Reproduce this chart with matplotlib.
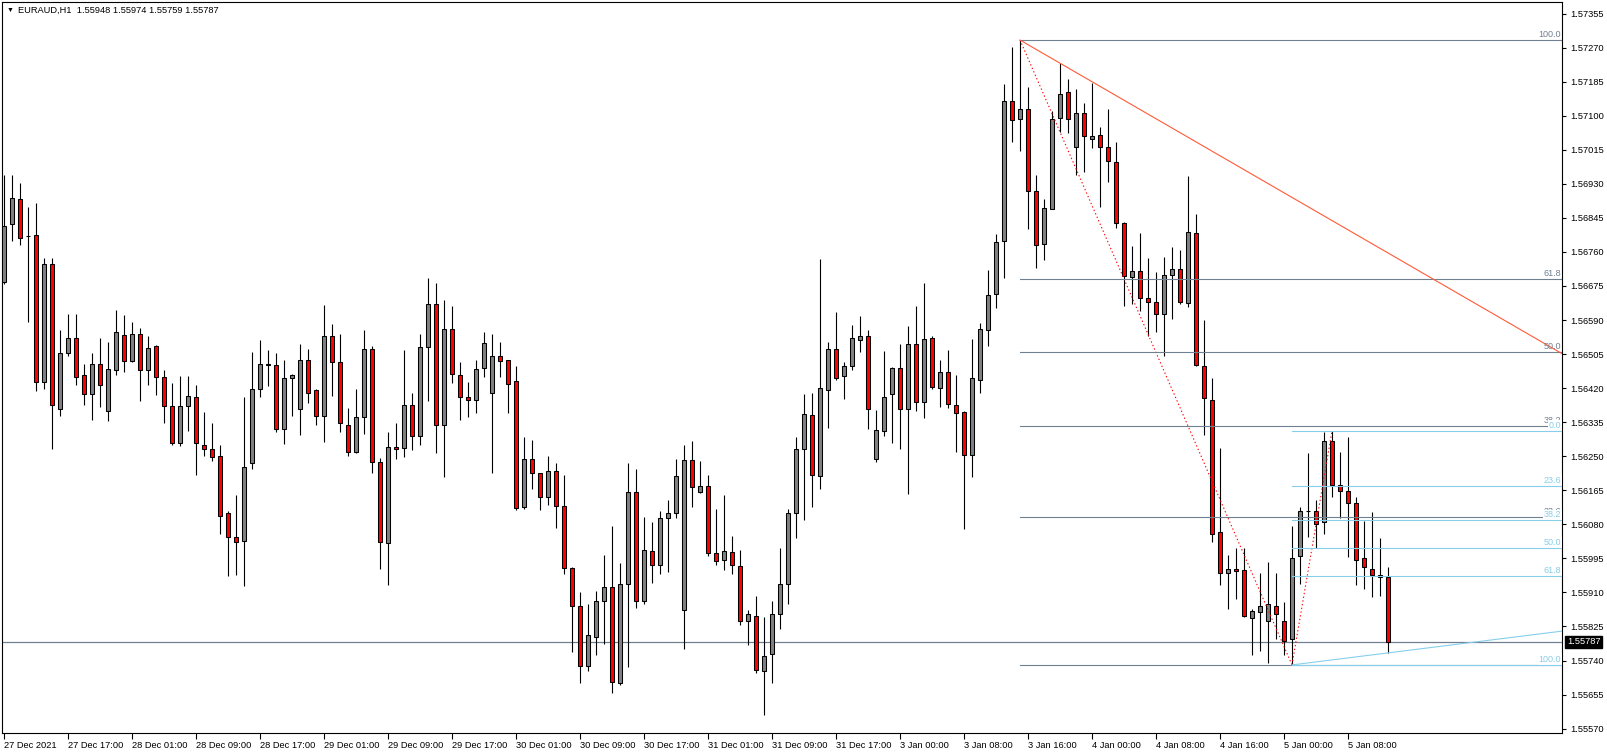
import matplotlib
matplotlib.use("Agg")
import matplotlib.pyplot as plt
from matplotlib.transforms import blended_transform_factory, ScaledTranslation
import numpy as np

plt.rcParams['font.family'] = ['Liberation Sans', 'DejaVu Sans']

symbol = "EURAUD,H1"

opens = [
    1.56685, 1.56831, 1.56892, 1.56801, 1.56803, 1.56435, 1.56729, 1.56369, 1.56507, 1.56544,
    1.56453, 1.56405, 1.56481, 1.56364, 1.56465, 1.56553, 1.56487, 1.56556, 1.56465, 1.56524,
    1.56447, 1.56375, 1.56283, 1.56375, 1.56399, 1.56279, 1.56269, 1.56251, 1.56107, 1.56049,
    1.56039, 1.56233, 1.56417, 1.56478, 1.56477, 1.56317, 1.56445, 1.56367, 1.56490, 1.56416,
    1.56350, 1.56549, 1.56485, 1.56329, 1.56261, 1.56347, 1.56517, 1.56235, 1.56034, 1.56273,
    1.56271, 1.56377, 1.56301, 1.56523, 1.56631, 1.56329, 1.56567, 1.56454, 1.56398, 1.56391,
    1.56470, 1.56407, 1.56500, 1.56489, 1.56437, 1.56123, 1.56242, 1.56207, 1.56149, 1.56212,
    1.56125, 1.55972, 1.55875, 1.55726, 1.55799, 1.55889, 1.55924, 1.55685, 1.55931, 1.56161,
    1.55888, 1.56014, 1.55978, 1.56097, 1.56107, 1.55866, 1.56241, 1.56161, 1.56175, 1.56009,
    1.55991, 1.56011, 1.55975, 1.55839, 1.55850, 1.55715, 1.55755, 1.55857, 1.55931, 1.56107,
    1.56267, 1.56353, 1.56200, 1.56416, 1.56518, 1.56451, 1.56475, 1.56539, 1.56549, 1.56243,
    1.56313, 1.56405, 1.56470, 1.56369, 1.56529, 1.56386, 1.56544, 1.56421, 1.56460, 1.56377,
    1.56361, 1.56254, 1.56441, 1.56565, 1.56655, 1.56788, 1.57137, 1.57093, 1.57118, 1.56913,
    1.56779, 1.56867, 1.57095, 1.57159, 1.57023, 1.57107, 1.57042, 1.57053, 1.57023, 1.56985,
    1.56833, 1.56697, 1.56713, 1.56646, 1.56635, 1.56605, 1.56703, 1.56717, 1.56633, 1.56807,
    1.56475, 1.56391, 1.56061, 1.55959, 1.55969, 1.55965, 1.55847, 1.55861, 1.55839, 1.55877,
    1.55839, 1.55793, 1.56001, 1.56113, 1.56113, 1.56085, 1.56287, 1.56177, 1.56163, 1.56133,
    1.55995, 1.55969, 1.55953, 1.55948]

highs = [
    1.56951, 1.56951, 1.56933, 1.56871, 1.56881, 1.56745, 1.56745, 1.56566, 1.56605, 1.56605,
    1.56481, 1.56507, 1.56545, 1.56536, 1.56614, 1.56603, 1.56585, 1.56571, 1.56549, 1.56527,
    1.56465, 1.56433, 1.56451, 1.56451, 1.56429, 1.56361, 1.56333, 1.56277, 1.56113, 1.56153,
    1.56398, 1.56511, 1.56541, 1.56515, 1.56508, 1.56490, 1.56455, 1.56531, 1.56518, 1.56419,
    1.56628, 1.56581, 1.56556, 1.56370, 1.56417, 1.56566, 1.56525, 1.56245, 1.56310, 1.56333,
    1.56515, 1.56407, 1.56556, 1.56695, 1.56683, 1.56641, 1.56626, 1.56485, 1.56436, 1.56490,
    1.56559, 1.56556, 1.56535, 1.56490, 1.56475, 1.56298, 1.56291, 1.56209, 1.56251, 1.56233,
    1.56203, 1.55973, 1.55911, 1.55881, 1.55913, 1.56003, 1.56077, 1.55983, 1.56233, 1.56218,
    1.56098, 1.56086, 1.56113, 1.56141, 1.56243, 1.56278, 1.56289, 1.56237, 1.56202, 1.56119,
    1.56153, 1.56051, 1.56017, 1.55865, 1.55901, 1.55849, 1.55889, 1.56021, 1.56119, 1.56298,
    1.56405, 1.56407, 1.56743, 1.56536, 1.56611, 1.56485, 1.56578, 1.56601, 1.56566, 1.56365,
    1.56513, 1.56473, 1.56529, 1.56574, 1.56626, 1.56683, 1.56549, 1.56489, 1.56515, 1.56454,
    1.56363, 1.56543, 1.56583, 1.56715, 1.56806, 1.57180, 1.57271, 1.57289, 1.57173, 1.56953,
    1.56893, 1.57111, 1.57232, 1.57191, 1.57167, 1.57131, 1.57181, 1.57071, 1.57117, 1.57034,
    1.56835, 1.56775, 1.56808, 1.56746, 1.56709, 1.56747, 1.56773, 1.56765, 1.56949, 1.56854,
    1.56591, 1.56446, 1.56271, 1.56003, 1.56021, 1.56021, 1.55869, 1.55959, 1.55985, 1.55959,
    1.55887, 1.56075, 1.56123, 1.56259, 1.56141, 1.56311, 1.56313, 1.56261, 1.56297, 1.56147,
    1.56089, 1.56111, 1.56045, 1.55974]

lows = [
    1.56681, 1.56787, 1.56777, 1.56585, 1.56413, 1.56419, 1.56269, 1.56350, 1.56500, 1.56429,
    1.56379, 1.56341, 1.56374, 1.56339, 1.56453, 1.56461, 1.56485, 1.56389, 1.56429, 1.56403,
    1.56332, 1.56279, 1.56275, 1.56314, 1.56203, 1.56251, 1.56237, 1.56057, 1.55951, 1.55954,
    1.55926, 1.56218, 1.56398, 1.56425, 1.56311, 1.56281, 1.56351, 1.56302, 1.56383, 1.56328,
    1.56286, 1.56401, 1.56311, 1.56251, 1.56259, 1.56305, 1.56207, 1.55969, 1.55929, 1.56243,
    1.56249, 1.56265, 1.56277, 1.56389, 1.56257, 1.56199, 1.56433, 1.56341, 1.56347, 1.56357,
    1.56449, 1.56207, 1.56447, 1.56359, 1.56115, 1.56117, 1.56167, 1.56115, 1.56127, 1.56071,
    1.55956, 1.55762, 1.55685, 1.55715, 1.55753, 1.55781, 1.55659, 1.55679, 1.55725, 1.55871,
    1.55880, 1.55933, 1.55955, 1.55961, 1.56097, 1.55769, 1.56122, 1.56159, 1.56001, 1.55979,
    1.55967, 1.55957, 1.55829, 1.55779, 1.55709, 1.55603, 1.55685, 1.55819, 1.55880, 1.56047,
    1.56091, 1.56122, 1.56169, 1.56320, 1.56441, 1.56394, 1.56465, 1.56509, 1.56317, 1.56235,
    1.56301, 1.56283, 1.56267, 1.56155, 1.56363, 1.56345, 1.56417, 1.56374, 1.56371, 1.56261,
    1.56069, 1.56199, 1.56409, 1.56525, 1.56620, 1.56695, 1.57034, 1.57011, 1.56818, 1.56719,
    1.56740, 1.56866, 1.57059, 1.57057, 1.56951, 1.56959, 1.57019, 1.56873, 1.56935, 1.56819,
    1.56625, 1.56630, 1.56613, 1.56549, 1.56561, 1.56501, 1.56593, 1.56630, 1.56623, 1.56475,
    1.56303, 1.56037, 1.55929, 1.55869, 1.55893, 1.55849, 1.55753, 1.55763, 1.55733, 1.55793,
    1.55753, 1.55729, 1.55931, 1.56049, 1.56021, 1.56057, 1.56147, 1.56097, 1.55999, 1.55929,
    1.55919, 1.55899, 1.55901, 1.55759]

closes = [
    1.56825, 1.56895, 1.56796, 1.56801, 1.56435, 1.56731, 1.56377, 1.56507, 1.56544, 1.56449,
    1.56405, 1.56481, 1.56429, 1.56469, 1.56559, 1.56487, 1.56556, 1.56465, 1.56519, 1.56447,
    1.56375, 1.56283, 1.56375, 1.56401, 1.56283, 1.56269, 1.56249, 1.56101, 1.56049, 1.56037,
    1.56223, 1.56417, 1.56481, 1.56479, 1.56317, 1.56445, 1.56454, 1.56490, 1.56407, 1.56350,
    1.56549, 1.56484, 1.56332, 1.56261, 1.56347, 1.56517, 1.56235, 1.56037, 1.56272, 1.56267,
    1.56377, 1.56301, 1.56523, 1.56631, 1.56329, 1.56567, 1.56455, 1.56397, 1.56391, 1.56467,
    1.56533, 1.56500, 1.56487, 1.56431, 1.56121, 1.56242, 1.56207, 1.56149, 1.56212, 1.56125,
    1.55972, 1.55875, 1.55726, 1.55804, 1.55889, 1.55924, 1.55687, 1.55931, 1.56161, 1.55888,
    1.56017, 1.55978, 1.56095, 1.56107, 1.56200, 1.56241, 1.56173, 1.56176, 1.56009, 1.55989,
    1.56014, 1.55979, 1.55839, 1.55855, 1.55717, 1.55751, 1.55857, 1.55932, 1.56107, 1.56267,
    1.56356, 1.56203, 1.56421, 1.56518, 1.56445, 1.56475, 1.56545, 1.56549, 1.56369, 1.56315,
    1.56399, 1.56471, 1.56367, 1.56529, 1.56386, 1.56542, 1.56423, 1.56460, 1.56381, 1.56359,
    1.56254, 1.56446, 1.56567, 1.56653, 1.56785, 1.57137, 1.57089, 1.57118, 1.56913, 1.56777,
    1.56869, 1.57091, 1.57155, 1.57091, 1.57107, 1.57049, 1.57050, 1.57021, 1.56987, 1.56833,
    1.56701, 1.56713, 1.56644, 1.56635, 1.56605, 1.56703, 1.56718, 1.56635, 1.56809, 1.56477,
    1.56395, 1.56055, 1.55959, 1.55969, 1.55963, 1.55850, 1.55863, 1.55875, 1.55880, 1.55857,
    1.55789, 1.55997, 1.56113, 1.56113, 1.56081, 1.56287, 1.56177, 1.56163, 1.56133, 1.55991,
    1.55973, 1.55953, 1.55948, 1.55787]

time_labels = ["27 Dec 2021", "27 Dec 17:00", "28 Dec 01:00", "28 Dec 09:00", "28 Dec 17:00",
               "29 Dec 01:00", "29 Dec 09:00", "29 Dec 17:00", "30 Dec 01:00", "30 Dec 09:00",
               "30 Dec 17:00", "31 Dec 01:00", "31 Dec 09:00", "31 Dec 17:00", "3 Jan 00:00",
               "3 Jan 08:00", "3 Jan 16:00", "4 Jan 00:00", "4 Jan 08:00", "4 Jan 16:00",
               "5 Jan 00:00", "5 Jan 08:00"]
label_step = 8

price_ticks = [1.55570, 1.55655, 1.55740, 1.55825, 1.55910, 1.55995, 1.56080, 1.56165,
               1.56250, 1.56335, 1.56420, 1.56505, 1.56590, 1.56675, 1.56760, 1.56845,
               1.56930, 1.57015, 1.57100, 1.57185, 1.57270, 1.57355]

fib_levels = [0.0, 23.6, 38.2, 50.0, 61.8, 100.0]
fib1_points = [(127, 1.57289), (161, 1.55729)]   # high -> low
fib2_points = [(161, 1.55729), (166, 1.56313)]   # low -> high
trend_red = [(127, 1.57289), (136, 1.57185)]
trend_blue = [(161, 1.55729), (173, 1.55759)]

# ---------------------------------------------------------------
W, H = 1608, 752
fig = plt.figure(figsize=(W / 100, H / 100), dpi=100)
ax = fig.add_axes([2 / W, 19 / H, 1560 / W, (733 - 2.4) / H])
ax.set_xlim(-0.25, 194.75)
ax.set_ylim(1.55559, 1.57383)

o = np.array(opens); h = np.array(highs); l = np.array(lows); c = np.array(closes)
x = np.arange(len(o))
up = c >= o
cols = np.where(up, '#808080', '#FF0000')

ax.vlines(x, l, h, color='black', linewidth=0.8, zorder=2)
ax.bar(x, np.abs(c - o), bottom=np.minimum(o, c), width=0.58, color=cols,
       edgecolor='black', linewidth=0.75, zorder=3)

xmax = ax.get_xlim()[1]
fib_gray = '#708090'
fib_blue = '#87CEEB'
trans_lbl = blended_transform_factory(ax.transAxes, ax.transData) + \
    ScaledTranslation(-1 / 100, 1 / 100, fig.dpi_scale_trans)


def draw_fib(points, color, zl, zt, boxed):
    (x1, p1), (x2, p2) = points
    ax.plot([x1, x2], [p1, p2], color='red', linewidth=0.8,
            linestyle=(0, (1.2, 2.2)), zorder=4)
    for lv in fib_levels:
        p = p2 + (p1 - p2) * lv / 100.0
        ax.plot([x1, xmax], [p, p], color=color, linewidth=0.8, zorder=zl)
        kw = {}
        if boxed:
            kw['bbox'] = dict(boxstyle='square,pad=0.08', fc='white', ec='none')
        ax.text(1.0, p, f"{lv:.1f}", transform=trans_lbl, ha='right', va='bottom',
                color=color, fontsize=6.5, zorder=zt, **kw)


draw_fib(fib1_points, fib_gray, 4, 4.5, False)
draw_fib(fib2_points, fib_blue, 6, 5, True)


def draw_ray(points, color):
    (x1, p1), (x2, p2) = points
    slope = (p2 - p1) / (x2 - x1)
    ax.plot([x1, xmax], [p1, p1 + slope * (xmax - x1)], color=color,
            linewidth=0.8, zorder=4)


draw_ray(trend_red, '#FF5A36')
draw_ray(trend_blue, fib_blue)

# bid line
ax.axhline(closes[-1], color=fib_gray, linewidth=0.9, zorder=1)

# axes styling
for s in ax.spines.values():
    s.set_color('black')
    s.set_linewidth(0.8)
ax.yaxis.tick_right()
ax.set_yticks(price_ticks)
ax.set_yticklabels([f"{v:.5f}" for v in price_ticks])
ax.tick_params(axis='y', direction='out', length=3, width=0.8, pad=3,
               labelsize=6.7, colors='black')
xt = list(range(0, label_step * len(time_labels), label_step))
ax.set_xticks(xt)
ax.set_xticklabels(time_labels)
ax.tick_params(axis='x', direction='out', length=4, width=0.8, pad=1.5,
               labelsize=6.7, colors='black')
for lab in ax.get_xticklabels():
    lab.set_ha('left')

# current price box
tr_box = blended_transform_factory(ax.transAxes, ax.transData) + \
    ScaledTranslation(5 / 100, 0, fig.dpi_scale_trans)
ax.text(1.0, closes[-1], f"{closes[-1]:.5f}", transform=tr_box, ha='left', va='center',
        color='white', fontsize=6.7, clip_on=False,
        bbox=dict(boxstyle='square,pad=0.18', fc='black', ec='black'))

# title
fig.text(6.5 / W, 1 - 10.5 / H, "\u25BC", fontsize=5, va='center', ha='left', color='black')
fig.text(18 / W, 1 - 10 / H,
         f"{symbol}  {opens[-1]:.5f} {highs[-1]:.5f} {lows[-1]:.5f} {closes[-1]:.5f}",
         fontsize=6.7, va='center', ha='left', color='black')

fig.savefig("out.png", dpi=100, facecolor='white')
